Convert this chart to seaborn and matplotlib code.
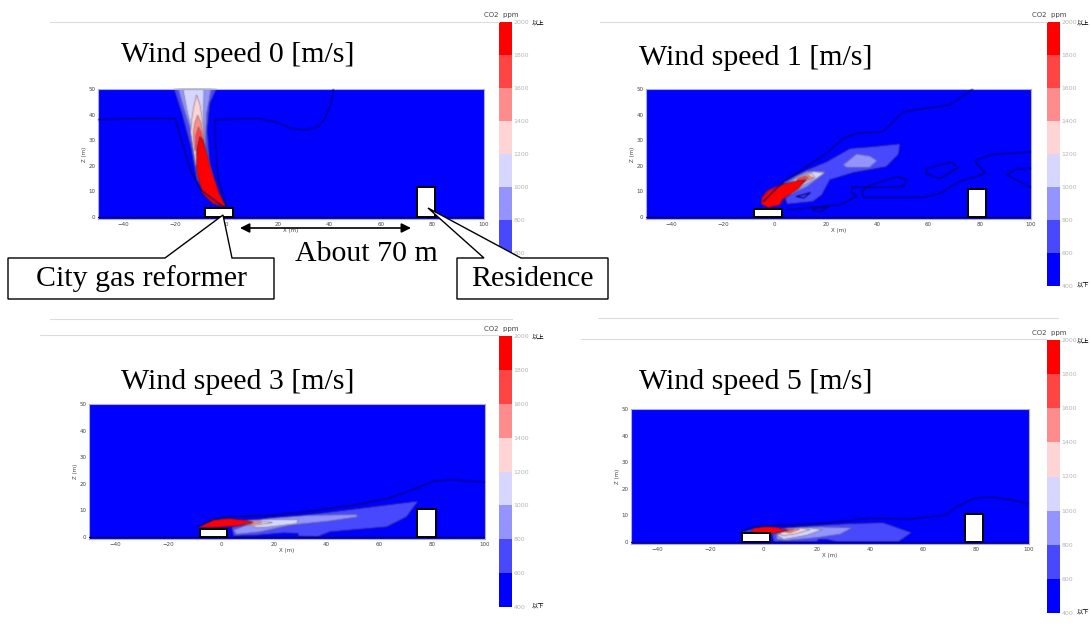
import matplotlib
matplotlib.use("Agg")
import matplotlib.pyplot as plt
from matplotlib.colors import ListedColormap
import numpy as np
import seaborn as sns

sns.set_theme(style="white")
plt.rcParams['font.family'] = ['DejaVu Sans', 'Noto Sans CJK JP']
plt.rcParams['text.color'] = 'black'

W, H = 1090, 637

# colour classes of the CO2 scale, top of the bar first
bar_levels = [1900, 1700, 1500, 1300, 1100, 900, 700, 500]
bar_labels = [2000, 1800, 1600, 1400, 1200, 1000, 800, 600, 400]
bar_colors = ['#ff0000', '#ff4444', '#ff8c8c', '#ffd4d4', '#d6d6ff', '#9494ff', '#4848ff', '#0000ff']
level_color = {1900: '#ff0000', 1700: '#ff4444', 1500: '#ff8c8c', 1300: '#ffd4d4',
               1100: '#d6d6ff', 900: '#9494ff', 700: '#4848ff'}

x_ticks = [-40, -20, 0, 20, 40, 60, 80, 100]
z_ticks = [0, 10, 20, 30, 40, 50]

# plume outlines: (x m, z m), lowest class first
wind0_fill = {
    700: [(-20.5, 50), (-17.5, 40.5), (-14, 27.5), (-11.7, 14.5), (-8, 8), (-3.9, 4.7), (-1, 4), (-3.2, 9.2), (-6.5, 21), (-7.5, 34), (-6.5, 44.4), (-3.9, 50)],
    900: [(-18.8, 50), (-16.5, 42), (-14, 34), (-11, 15.8), (-4.5, 11.8), (-8.4, 27.5), (-7.8, 40.5), (-6, 50)],
    1100: [(-17, 50), (-15.5, 42), (-13.6, 34), (-10.6, 17), (-5.5, 13), (-9, 25), (-9, 38), (-8.8, 50)],
    1300: [(-11.7, 47.7), (-12.8, 43), (-13.6, 38), (-14, 33), (-12, 20), (-8, 22), (-8.8, 30), (-9.3, 37), (-10.4, 44)],
    1500: [(-11.3, 39.8), (-12.3, 37), (-13, 33), (-12.5, 26), (-8.6, 26), (-9.2, 33), (-10, 37)],
    1700: [(-11, 35.3), (-12, 32), (-12.2, 28), (-11.5, 24), (-8.4, 24), (-9, 30), (-9.8, 33)],
    1900: [(-10.4, 31.4), (-11.4, 27), (-11.8, 22), (-11.6, 17), (-9.4, 9.2), (-5.4, 5.3), (0, 3.6), (-2.8, 9.2), (-6, 18.4), (-8, 26), (-9.2, 30)],
}
wind0_lines = [
    [(-50, 38), (-35, 38.5), (-20, 38.5), (-17.5, 30), (-14, 18), (-10, 10.5), (-1.3, 4), (0, 4), (-3.2, 14.5), (-4.3, 27.5), (-4.5, 38),
     (12, 38.5), (19.5, 37), (25, 34.7), (30, 34), (35, 35), (38, 38), (40.5, 44), (41.5, 50)],
]

wind1_fill = {
    700: [(3.5, 13.8), (12.6, 18.4), (20.4, 21.6), (29.5, 26.8), (38.5, 27.5), (49, 28.6), (48.4, 24.5), (43.6, 19.6), (30.7, 17.3), (21.7, 14.5), (18.5, 8.6), (15, 6), (5, 5), (3.5, 9)],
    900: [(26.8, 20.3), (32, 24.6), (37.2, 23.8), (40, 22), (37.2, 19.4), (28.1, 19.4)],
    901: [(5.4, 8.6), (12.6, 11.8), (17.8, 15.8), (19.7, 17.7), (12.6, 17.7), (8.7, 15.8), (4.8, 13.2)],
    1100: [(6.1, 8.6), (11.3, 12.5), (16.5, 15.1), (19.7, 17.3), (15.2, 17.7), (11.3, 16.4), (6.1, 13.2)],
    1300: [(7.4, 11.2), (11.9, 13.8), (15.8, 15.5), (14.5, 17), (10, 15.8), (6.7, 13.8)],
    1500: [(8.7, 12.1), (12.6, 14.2), (15.2, 15.1), (13.2, 16.4), (9.3, 15.1)],
    1700: [(9, 12.8), (12, 14.5), (13.5, 15.3), (12, 16), (9, 15)],
    1900: [(-5.2, 5), (-4.9, 7.5), (-2.7, 10.3), (0.5, 11.8), (4, 13), (9, 14.2), (12.3, 14.5), (9.3, 11), (6.2, 8.8), (3.3, 6.8), (2.2, 4.7), (-2.3, 3.6)],
}
wind1_lines = [
    [(-4.3, 6), (3.5, 13.8), (12.6, 19.7), (20.4, 24.9), (26.8, 30.7), (32, 32.7), (42.4, 33.3), (50.2, 41.1), (68.4, 43.8), (77.4, 50)],
    [(4.8, 2.7), (11.3, 3.4), (20.4, 4.3), (25.5, 4.7), (32, 8), (30, 10), (30.7, 11.8), (38.5, 11.5), (50.2, 11.8), (51.5, 14.5), (48, 15.8), (37.3, 12.5), (34, 9.9), (35, 7.6),
     (58, 7.6), (64.3, 9.2), (72, 13.8), (82.3, 17), (78, 22), (85, 24.4), (100, 25.4)],
    [(59.2, 18.9), (69, 21.5), (71.6, 19.3), (64.5, 15), (59.2, 17), (59.2, 18.9)],
    [(100, 19), (94.3, 18.6), (90.4, 16.4), (100, 11.6)],
    [(15, 3.4), (21, 4), (18, 2), (15, 2.7), (15, 3.4)],
    [(8.7, 8), (14, 9.5), (11.5, 7.4), (8.7, 8)],
]

wind3_fill = {
    700: [(4, 3.75), (11, 6.5), (31.2, 8.1), (51.4, 10.6), (74.7, 13.5), (70.3, 7.5), (62.8, 3.75), (41.3, 1.9), (36.5, 0), (29.2, 0.3), (29.2, 1.3), (23.6, 1.5), (13.5, 0.6), (4.7, 0.3)],
    900: [(4.7, 2.5), (11, 5), (18.6, 6.9), (33.7, 8.1), (51.4, 8.4), (51.6, 7.5), (41.3, 6), (26, 4.4), (14.8, 1.9), (5.9, 1)],
    1100: [(9.7, 5), (16, 6.5), (29.3, 6.5), (28.7, 5), (18.6, 3.75), (13.5, 3.4)],
    1300: [(8, 5.2), (13, 6.2), (19.5, 5.4), (13, 4.4)],
    1500: [(7, 5.3), (12, 6.2), (15.5, 5.4), (12, 4.6)],
    1700: [(6, 5.4), (10.5, 6.3), (12.5, 5.5), (10.5, 4.7)],
    1900: [(-8.8, 3.6), (-2.9, 6.5), (3.4, 6.9), (9.7, 6.2), (11.8, 5.4), (7.2, 4.2), (2.1, 3.8), (-4.2, 3.4)],
}
wind3_lines = [
    [(-9.2, 3.75), (-2.9, 6.5), (0.9, 7.5), (18.6, 8.1), (31.2, 9.4), (50.1, 11.9), (62.8, 14.4), (70.3, 16.9), (76.7, 19.4), (80.4, 21), (88, 21.5), (100, 20.6)],
]

wind5_fill = {
    700: [(-8.8, 3.75), (-3.8, 5), (4.4, 5), (21.3, 6.25), (32.6, 6.9), (45.1, 7.25), (55.8, 3.5), (50.8, 0), (27.6, 0), (23.8, 0.9), (20.7, 0.9), (20, 0), (3.8, 0), (3, 3.5)],
    900: [(4.8, 3.1), (8.8, 5), (21.3, 5.6), (33.2, 5.25), (28.8, 2.9), (20, 1.6), (8.8, 0.6), (5, 0.9)],
    1100: [(5, 2.5), (9.4, 4.4), (17.5, 5.25), (22.2, 4.6), (16.3, 2.5), (7.5, 0.9)],
    1300: [(6, 3.4), (9.5, 4.7), (14, 5.2), (17.5, 4.6), (12, 3), (7, 2.3)],
    1500: [(7, 4), (10, 5), (13.5, 4.8), (10, 3.4)],
    1700: [(7, 4.4), (9, 5), (11.5, 4.7), (9, 3.9)],
    1900: [(-4.8, 3.6), (-4, 5.1), (0, 5.9), (5, 5.5), (9, 4.4), (5, 3.3), (1.3, 3.2)],
}
wind5_lines = [
    [(-8.8, 3.75), (-3.8, 5.6), (6.3, 6.25), (23.8, 7.1), (40, 9), (53.9, 8.5), (68.3, 10), (72.7, 13.1), (78.9, 16.25), (85.2, 16.9), (92.7, 16), (99.6, 14.4)],
]

# panel: pixel box of axes and of colour bar, title position, data
panels = [
    dict(box=(98, 89, 484, 219), bar=(499, 22, 512, 286), title=(121, 55), text='Wind speed 0 [m/s]', tag=20, low=False,
         fill=wind0_fill, lines=wind0_lines, reformer=(-8.5, 2.3, 3.5), house=(74, 81, 11.7)),
    dict(box=(646, 89, 1031, 219), bar=(1047, 22, 1060, 286), title=(639, 58), text='Wind speed 1 [m/s]', tag=17, low=True,
         fill=wind1_fill, lines=wind1_lines, reformer=(-7.8, 3.1, 3.3), house=(75.5, 82.6, 11)),
    dict(box=(89, 404, 485, 539), bar=(499, 336, 512, 607), title=(121, 382), text='Wind speed 3 [m/s]', tag=20, low=True,
         fill=wind3_fill, lines=wind3_lines, reformer=(-8, 2.4, 2.9), house=(74.4, 81.3, 10.4)),
    dict(box=(631, 409, 1029, 544), bar=(1047, 340, 1060, 613), title=(639, 382), text='Wind speed 5 [m/s]', tag=17, low=True,
         fill=wind5_fill, lines=wind5_lines, reformer=(-8, 2.5, 3.4), house=(75.7, 82.6, 10.5)),
]

# page rules left over from the slide: start, end, height
rules = [(50, 499, 22), (600, 1047, 22), (50, 512, 319), (40, 499, 335), (598, 1058, 318), (581, 1047, 339)]

fig = plt.figure(figsize=(W / 100, H / 100), dpi=100, facecolor='white')


def px_axes(x0, y0, x1, y1):
    return fig.add_axes([x0 / W, 1 - y1 / H, (x1 - x0) / W, (y1 - y0) / H])


def soften(img, dpi):
    # the source picture is a scaled-up bitmap, so the contours look soft
    kernel = np.array([0.2, 0.6, 0.2])
    out = np.pad(img, ((3, 3), (3, 3), (0, 0)))
    out[..., :3] *= out[..., 3:]
    for axis in (0, 1):
        out = np.apply_along_axis(np.convolve, axis, out, kernel, mode='same')
    alpha = np.maximum(out[..., 3:], 1e-4)
    out[..., :3] = np.clip(out[..., :3] / alpha, 0, 1)
    return out, -3, -3


# overlay in pixel coordinates for the call-outs, text and page rules
page = fig.add_axes([0, 0, 1, 1], zorder=5)
page.set_xlim(0, W)
page.set_ylim(H, 0)
page.axis('off')
page.patch.set_alpha(0)

for p in panels:
    ax = px_axes(*p['box'])
    ax.set_facecolor('#0000ff')
    ax.set_xlim(-50, 100)
    ax.set_ylim(-0.8, 50)
    for lev, pts in p['fill'].items():
        xs, zs = zip(*pts)
        col = level_color[900 if lev == 901 else lev]
        edge = '#1c1c50' if lev in (700, 1900) else '#66667a'
        patch = ax.fill(xs, zs, facecolor=col, edgecolor=edge, linewidth=0.4, joinstyle='round', zorder=2)[0]
        patch.set_agg_filter(soften)
    for line in p['lines']:
        xs, zs = zip(*line)
        sns.lineplot(x=list(xs), y=list(zs), sort=False, estimator=None, ax=ax,
                     color='#00006a', linewidth=0.8, zorder=3)
        ax.lines[-1].set_agg_filter(soften)
    ax.axhline(0, color='#00007a', linewidth=1.0, zorder=3)
    a, b, top = p['reformer']
    ax.fill_between([a, b], 0, top, facecolor='white', edgecolor='black', linewidth=1.4, zorder=4)
    a, b, top = p['house']
    ax.fill_between([a, b], 0, top, facecolor='white', edgecolor='black', linewidth=1.4, zorder=4)
    ax.set_xticks(x_ticks)
    ax.set_yticks(z_ticks)
    ax.tick_params(labelsize=4, length=0, pad=2, labelcolor='#444444')
    ax.set_xlabel('X (m)', fontsize=4, labelpad=1, color='#444444')
    ax.set_ylabel('Z (m)', fontsize=4, labelpad=1, color='#444444')
    for s in ax.spines.values():
        s.set_color('#b0b0c8')
        s.set_linewidth(0.8)

    # colour bar, its lowest labels are behind the Residence box in the first panel
    cax = px_axes(*p['bar'])
    sns.heatmap(np.array(bar_levels).reshape(-1, 1), ax=cax, cmap=ListedColormap(bar_colors[::-1]),
                vmin=400, vmax=2000, cbar=False, xticklabels=False)
    cax.yaxis.tick_right()
    shown = bar_labels if p['low'] else bar_labels[:-1]
    cax.set_yticks(range(len(shown)))
    cax.set_yticklabels(shown, rotation=0, fontsize=4.5, color='#b4b4b4')
    cax.tick_params(length=0, pad=1)
    x0, y0, x1, y1 = p['bar']
    page.text(x0 - 15, y0 - 7, 'CO2  ppm', fontsize=5, color='#444444', va='center', zorder=1)
    page.text(x1 + p['tag'], y0 + 1, '以上', fontsize=4.5, color='black', va='center', zorder=1)
    if p['low']:
        page.text(x1 + p['tag'], y1 - 1, '以下', fontsize=4.5, color='black', va='center', zorder=1)

    page.text(p['title'][0], p['title'][1], p['text'], family='Liberation Serif', fontsize=21.5,
              color='black', va='center')

for a, b, y in rules:
    page.plot([a, b], [y, y], color='#dcdcdc', linewidth=0.8, zorder=1)

# call-out boxes, open where the pointer meets them
callouts = [
    ('City gas reformer', [(8, 258), (165, 258), (223, 215), (232, 258), (274, 258), (274, 299), (8, 299)], 141),
    ('Residence', [(457, 258), (484, 258), (428, 208), (521, 258), (608, 258), (608, 299), (457, 299)], 532),
]
for label, outline, cx in callouts:
    xs, ys = zip(*outline)
    page.fill(xs, ys, facecolor='white', edgecolor='black', linewidth=1, joinstyle='miter', zorder=3)
    page.text(cx, 279, label, family='Liberation Serif', fontsize=21.5, ha='center', va='center', zorder=4)
page.annotate('', xy=(240, 228), xytext=(411, 228),
              arrowprops=dict(arrowstyle='<|-|>', color='black', linewidth=1.2, mutation_scale=14, shrinkA=0, shrinkB=0))
page.text(366, 254, 'About 70 m', family='Liberation Serif', fontsize=21.5, ha='center', va='center')

fig.savefig('out.png', dpi=100)
